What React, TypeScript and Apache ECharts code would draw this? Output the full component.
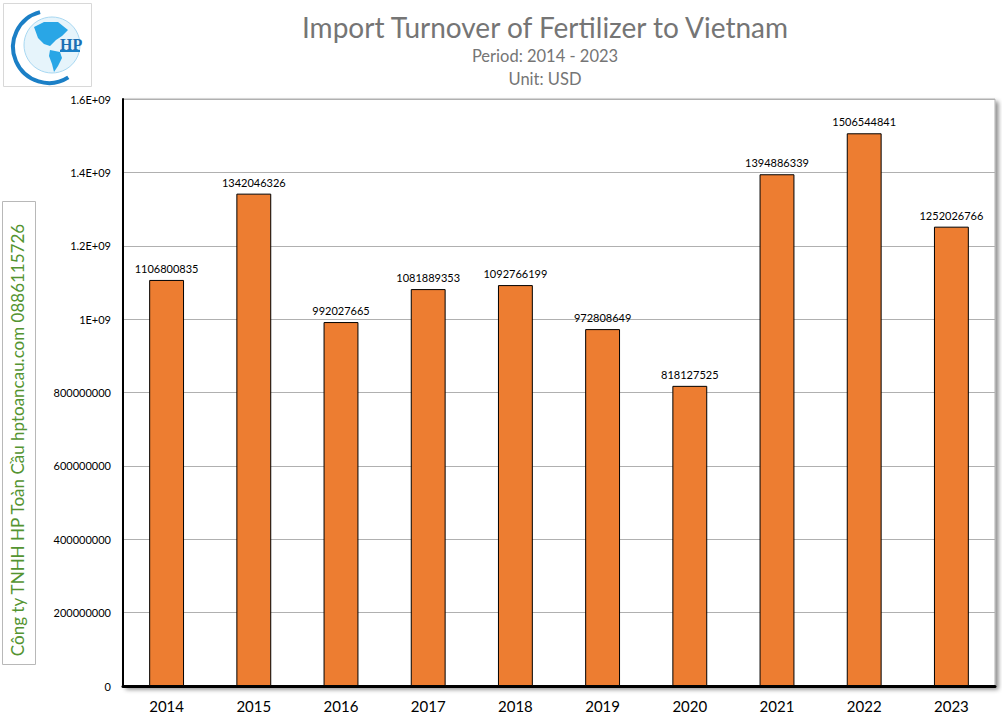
import React, { useEffect, useRef } from "react";
import * as echarts from "echarts";

const years = ["2014", "2015", "2016", "2017", "2018", "2019", "2020", "2021", "2022", "2023"];
const values = [1106800835, 1342046326, 992027665, 1081889353, 1092766199, 972808649, 818127525, 1394886339, 1506544841, 1252026766];
const yTickLabels: Record<string, string> = {
  "0": "0",
  "200000000": "200000000",
  "400000000": "400000000",
  "600000000": "600000000",
  "800000000": "800000000",
  "1000000000": "1E+09",
  "1200000000": "1.2E+09",
  "1400000000": "1.4E+09",
  "1600000000": "1.6E+09",
};

const font = "Lato, 'Open Sans', sans-serif";

export default function App() {
  const ref = useRef<HTMLDivElement>(null);
  useEffect(() => {
    if (!ref.current) return;
    const chart = echarts.init(ref.current, null, { renderer: "svg" });
    chart.setOption({
      animation: false,
      backgroundColor: "#fff",
      graphic: [
        {
          type: "text",
          x: 545,
          y: 27,
          style: {
            text: "Import Turnover of Fertilizer to Vietnam",
            fontFamily: font,
            fontSize: 28,
            fill: "#757575",
            align: "center",
            verticalAlign: "middle",
          },
        },
        {
          type: "text",
          x: 545,
          y: 56,
          style: {
            text: "Period: 2014 - 2023",
            fontFamily: font,
            fontSize: 16.5,
            fill: "#757575",
            align: "center",
            verticalAlign: "middle",
          },
        },
        {
          type: "text",
          x: 545,
          y: 79,
          style: {
            text: "Unit: USD",
            fontFamily: font,
            fontSize: 16.5,
            fill: "#757575",
            align: "center",
            verticalAlign: "middle",
          },
        },
        {
          type: "rect",
          shape: { x: 3.5, y: 3.5, width: 88, height: 83 },
          style: { fill: "#fff", stroke: "#d8d8d8", lineWidth: 1 },
        },
        {
          type: "circle",
          shape: { cx: 52, cy: 45, r: 28 },
          style: { fill: "#e6f4fb", stroke: "#a8d8f2", lineWidth: 1 },
        },
        {
          type: "polygon",
          shape: { points: [[34, 27], [44, 22], [58, 22], [68, 30], [62, 36], [56, 40], [50, 46], [44, 44], [38, 38]] },
          style: { fill: "#29a6e6" },
        },
        {
          type: "polygon",
          shape: { points: [[50, 50], [60, 52], [62, 58], [58, 66], [54, 72], [52, 64], [49, 56]] },
          style: { fill: "#29a6e6" },
        },
        {
          type: "arc",
          shape: { cx: 49, cy: 47, r: 36, startAngle: Math.PI * 1.42, endAngle: Math.PI * 0.32, clockwise: false },
          style: { stroke: "#1b7fc6", lineWidth: 4, fill: "none" },
        },
        {
          type: "line",
          shape: { x1: 60, y1: 51, x2: 80, y2: 51 },
          style: { stroke: "#1b7fc6", lineWidth: 2 },
        },
        {
          type: "text",
          x: 60,
          y: 36,
          style: { text: "HP", fontFamily: "Liberation Serif", fontSize: 16, fill: "#1a6fb3", fontWeight: "bold" },
        },
        {
          type: "rect",
          shape: { x: 2.5, y: 201.5, width: 33, height: 463 },
          style: { fill: "#fff", stroke: "#b8b8b8", lineWidth: 1 },
        },
        {
          type: "text",
          x: 17,
          y: 440,
          rotation: Math.PI / 2,
          style: {
            text: "Công ty TNHH HP Toàn Cầu hptoancau.com 0886115726",
            fontFamily: font,
            fontSize: 17,
            fill: "#549431",
            align: "center",
            verticalAlign: "middle",
          },
        },
      ],
      grid: {
        left: 123,
        right: 7,
        top: 99,
        bottom: 35,
        show: true,
        backgroundColor: "#fff",
        borderColor: "#b0b0b0",
        borderWidth: 1,
        shadowColor: "rgba(0,0,0,0.45)",
        shadowBlur: 4,
        shadowOffsetX: 3,
        shadowOffsetY: 3,
      },
      xAxis: {
        type: "category",
        data: years,
        axisLine: { show: true, lineStyle: { color: "#000", width: 3 } },
        axisTick: { show: false },
        axisLabel: { fontFamily: font, fontSize: 15, color: "#000", margin: 12 },
      },
      yAxis: {
        type: "value",
        min: 0,
        max: 1600000000,
        interval: 200000000,
        axisLine: { show: true, lineStyle: { color: "#000", width: 2 } },
        axisTick: { show: false },
        splitLine: { show: true, lineStyle: { color: "#b0b0b0", width: 1 } },
        axisLabel: {
          fontFamily: font,
          fontSize: 11,
          color: "#000",
          margin: 12,
          formatter: (v: number) => yTickLabels[String(v)] ?? String(v),
        },
      },
      series: [
        {
          type: "bar",
          data: values,
          barWidth: "40%",
          itemStyle: { color: "#ED7D31", borderColor: "#000", borderWidth: 1 },
          label: {
            show: true,
            position: "top",
            distance: 6,
            fontFamily: font,
            fontSize: 11,
            color: "#000",
          },
        },
      ],
    });
    return () => chart.dispose();
  }, []);
  return <div ref={ref} style={{ width: 1002, height: 721, position: "absolute", left: 0, top: 0 }} />;
}
